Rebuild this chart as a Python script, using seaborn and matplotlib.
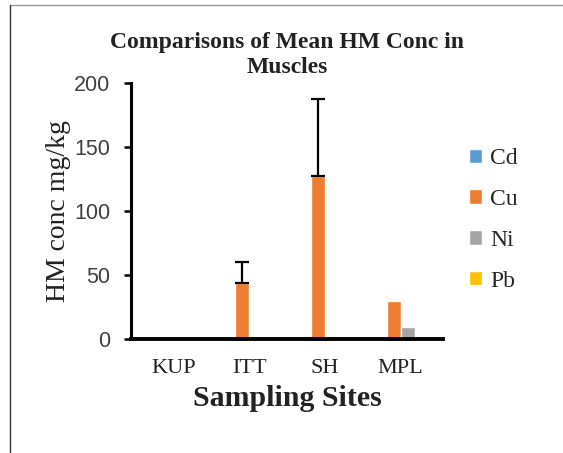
import pandas as pd
import matplotlib
matplotlib.use("Agg")
import matplotlib.pyplot as plt
from matplotlib.lines import Line2D
import seaborn as sns

# values (mg/kg)
sites = ["KUP", "ITT", "SH", "MPL"]
metals = ["Cd", "Cu", "Ni", "Pb"]
cd_vals = [0.0, 0.0, 0.0, 0.0]
cu_vals = [0.0, 44.0, 127.0, 30.0]
ni_vals = [0.0, 0.0, 0.0, 9.5]
pb_vals = [0.0, 0.0, 0.0, 1.2]
cu_err_up = [0.0, 16.5, 60.5, 0.0]
yticks = [0, 50, 100, 150, 200]
colors = ["#5B9BD5", "#ED7D31", "#A5A5A5", "#FFC000"]

df = pd.DataFrame({
    "site": sites * 4,
    "metal": [m for m in metals for _ in sites],
    "conc": cd_vals + cu_vals + ni_vals + pb_vals,
})

sns.set_theme(style="white")
plt.rcParams["font.family"] = ["Liberation Serif", "DejaVu Serif"]

fig = plt.figure(figsize=(5.63, 4.53), dpi=100)
ax = fig.add_axes([0.2327, 0.2517, 0.554, 0.565])

sns.barplot(data=df, x="site", y="conc", hue="metal", order=sites, hue_order=metals,
            palette=colors, width=0.74, errorbar=None, ax=ax, saturation=1)

# Cu bars carry only an upper error bar
cu_bars = ax.containers[1]
for bar, up in zip(cu_bars, cu_err_up):
    if up > 0:
        xc = bar.get_x() + bar.get_width() / 2
        ax.errorbar(xc, bar.get_height(), yerr=[[0], [up]], fmt="none",
                    ecolor="black", elinewidth=1.6, capsize=4.7, capthick=1.6)

ax.set_ylim(0, 200)
ax.set_yticks(yticks)
for lab in ax.get_yticklabels():
    lab.set_fontfamily("Liberation Sans")
    lab.set_fontsize(15.5)
    lab.set_color("#404040")
ax.tick_params(axis="y", direction="out", length=5, width=1.8, color="black", left=True, pad=10)
ax.tick_params(axis="x", length=0, labelsize=16, pad=14.5)
for lab in ax.get_xticklabels():
    lab.set_fontfamily("Liberation Serif")
    lab.set_color("#222222")

sns.despine(ax=ax)
ax.spines["left"].set_linewidth(2.2)
ax.spines["bottom"].set_linewidth(2.8)
ax.spines["left"].set_color("black")
ax.spines["bottom"].set_color("black")

ax.set_ylabel("HM conc mg/kg", fontsize=20, labelpad=2, color="#222222")
ax.set_xlabel("Sampling Sites", fontsize=21.5, fontweight="bold", labelpad=5, color="#222222")
fig.suptitle("Comparisons of Mean HM Conc in\nMuscles", x=0.51, y=0.929, fontsize=17,
             fontweight="bold", linespacing=1.25, color="#222222")

leg = fig.legend(handles=ax.get_legend().legend_handles, labels=metals,
                 loc="upper left", bbox_to_anchor=(0.833, 0.673), frameon=False,
                 fontsize=17, handlelength=0.55, handleheight=0.55, handletextpad=0.35,
                 labelspacing=0.84, borderpad=0, borderaxespad=0)
ax.get_legend().remove()

# thin frame lines of the original screenshot
fig.add_artist(Line2D([0.018, 1.0], [0.989, 0.989], color="#999999", lw=1))
fig.add_artist(Line2D([0.018, 0.018], [0.0, 0.989], color="#333333", lw=1))

fig.savefig("out.png", dpi=100)
